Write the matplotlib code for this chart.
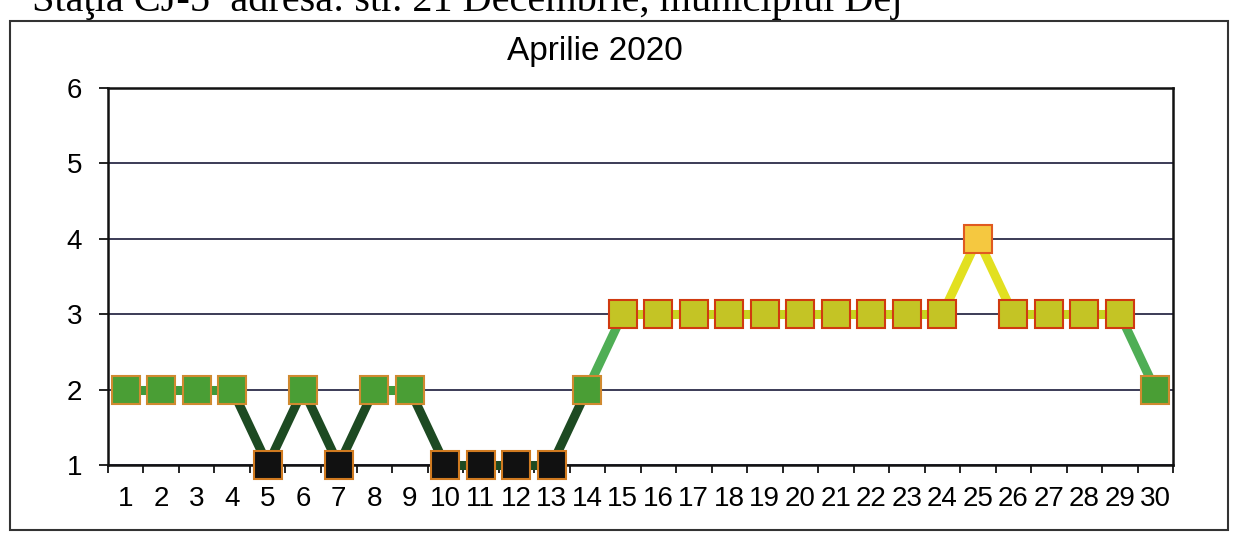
import matplotlib
matplotlib.use("Agg")
import matplotlib.pyplot as plt
from matplotlib.patches import Rectangle

days = list(range(1, 31))
values = [2, 2, 2, 2, 1, 2, 1, 2, 2, 1, 1, 1, 1, 2, 3, 3, 3, 3, 3, 3, 3, 3, 3, 3, 4, 3, 3, 3, 3, 2]
y_ticks = [1, 2, 3, 4, 5, 6]
title = "Aprilie 2020"
header = "Staţia CJ-5  adresa: str. 21 Decembrie, municipiul Dej"

marker_face = {1: "#111111", 2: "#4a9e35", 3: "#c4c425", 4: "#f5c840"}
marker_edge = {1: "#d07a20", 2: "#d08a30", 3: "#d03a10", 4: "#e05a20"}

def seg_color(a, b):
    lo, hi = min(a, b), max(a, b)
    if hi <= 2 and lo == 1:
        return "#1d4a22"
    if hi == 2:
        return "#3f9a3a"
    if lo == 2 and hi == 3:
        return "#4fae55"
    if hi == 3:
        return "#c8d420"
    return "#e2e020"

plt.rcParams['font.family'] = ['Liberation Sans', 'DejaVu Sans']
fig = plt.figure(figsize=(12.37, 5.35), dpi=100)
ax = fig.add_axes([0.0873, 0.131, 0.861, 0.7045])

for i in range(len(values) - 1):
    ax.plot(days[i:i + 2], values[i:i + 2], color=seg_color(values[i], values[i + 1]),
            lw=6.5, solid_capstyle='butt', zorder=3, clip_on=False)
for d, v in zip(days, values):
    ax.plot(d, v, marker='s', ms=20, mfc=marker_face[v], mec=marker_edge[v], mew=1.5,
            zorder=4, linestyle='none', clip_on=False)

ax.set_xlim(0.5, 30.5)
ax.set_ylim(1, 6)
ax.set_yticks(y_ticks)
ax.set_yticklabels([str(t) for t in y_ticks], fontsize=20)
ax.set_xticks(days)
ax.set_xticklabels([str(d) for d in days], fontsize=20)
ax.set_xticks([d + 0.5 for d in [0] + days], minor=True)
ax.tick_params(axis='x', which='major', length=0, pad=15)
ax.tick_params(axis='x', which='minor', length=6, width=1.2, direction='out')
ax.tick_params(axis='y', length=6.5, width=1.2, pad=12)
ax.yaxis.grid(True, color='#1a1a3a', lw=1.2)
ax.set_axisbelow(True)
for s in ax.spines.values():
    s.set_color('#111111')
    s.set_linewidth(1.8)

fig.text(0.481, 0.904, title, fontsize=24, ha='center', va='center')
fig.text(0.026, 0.979, header, fontsize=29, family='Liberation Serif', ha='left', va='baseline')
fig.patches.append(Rectangle((0.008, 0.010), 0.985, 0.951, transform=fig.transFigure,
                             fill=False, edgecolor='#333333', lw=1.5))

fig.savefig("out.png", dpi=100)
